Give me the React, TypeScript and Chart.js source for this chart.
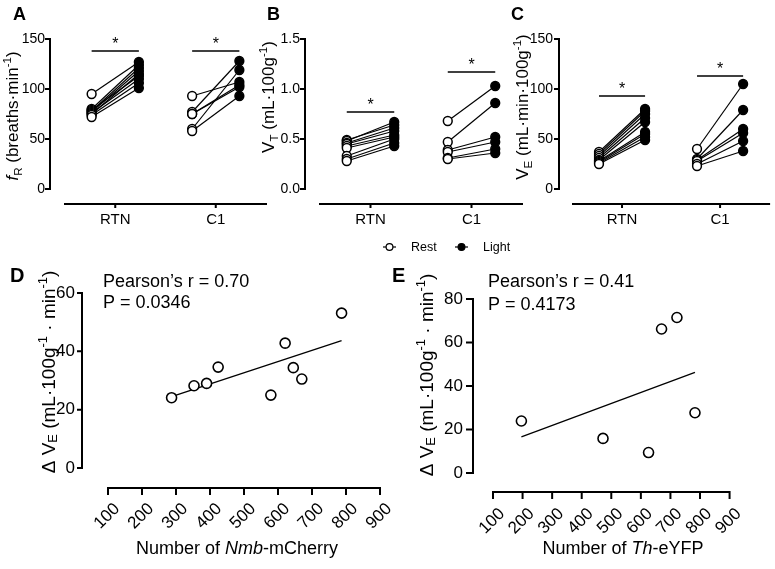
import React, { useEffect, useRef } from 'react';
import { Chart, registerables } from 'chart.js';
Chart.register(...registerables);

const FONT = "'Liberation Sans', Arial, Helvetica, sans-serif";

// ---------- data ----------
const groups = ['RTN', 'C1'];
const groupPos = [1, 2];

// A: fR (breaths/min)
const fRRtnRest = [95, 80, 79, 78, 77, 76, 75, 74, 72];
const fRRtnLight = [127, 124, 113, 121, 118, 110, 115, 106, 101];
const fRC1Rest = [93, 77, 75, 75, 60, 58];
const fRC1Light = [107, 128, 102, 104, 119, 93];
const fRBars = [138, 138];
const fRTicks = [0, 50, 100, 150];

// B: VT (mL/100g)
const vtRtnRest = [0.49, 0.48, 0.46, 0.45, 0.43, 0.41, 0.33, 0.3, 0.28];
const vtRtnLight = [0.64, 0.67, 0.61, 0.58, 0.54, 0.52, 0.5, 0.46, 0.43];
const vtC1Rest = [0.68, 0.47, 0.39, 0.37, 0.31, 0.3];
const vtC1Light = [1.03, 0.86, 0.52, 0.47, 0.4, 0.36];
const vtBars = [0.77, 1.17];
const vtTicks = [0, 0.5, 1.0, 1.5];

// C: VE (mL/min/100g)
const veRtnRest = [37, 35, 33, 31, 29, 28, 27, 26, 25];
const veRtnLight = [80, 78, 75, 71, 67, 57, 55, 52, 49];
const veC1Rest = [40, 30, 29, 28, 25, 23];
const veC1Light = [105, 79, 60, 56, 48, 38];
const veBars = [93, 113];
const veTicks = [0, 50, 100, 150];

// D: Nmb-mCherry vs delta VE
const nmbCount = [287, 353, 390, 424, 579, 621, 645, 670, 787];
const nmbDeltaVE = [24.1, 28.2, 29.0, 34.6, 25.0, 42.8, 34.4, 30.5, 53.1];
const nmbFitX = [287, 787];
const nmbFitY = [24.5, 43.7];
const dYTicks = [0, 20, 40, 60];

// E: Th-eYFP vs delta VE
const thCount = [196, 472, 626, 670, 722, 783];
const thDeltaVE = [23.9, 15.9, 9.4, 66.2, 71.5, 27.7];
const thFitX = [196, 783];
const thFitY = [16.6, 46.3];
const eYTicks = [0, 20, 40, 60, 80];

const countTicks = [100, 200, 300, 400, 500, 600, 700, 800, 900];

// ---------- rich text helpers ----------
type Seg = { t: string; it?: boolean; sub?: boolean; sup?: boolean };
type TextItem = { segs: Seg[]; x: number; y: number; size: number; bold?: boolean; rot?: boolean; align?: 'left' | 'center'; subDy?: number };

function segFont(s: Seg, size: number, bold?: boolean) {
  const fs = s.sub || s.sup ? size * 0.68 : size;
  return `${s.it ? 'italic ' : ''}${bold ? 'bold ' : ''}${fs}px ${FONT}`;
}
function drawRich(ctx: CanvasRenderingContext2D, item: TextItem) {
  ctx.save();
  ctx.translate(item.x, item.y);
  if (item.rot) ctx.rotate(-Math.PI / 2);
  let w = 0;
  for (const s of item.segs) {
    ctx.font = segFont(s, item.size, item.bold);
    w += ctx.measureText(s.t).width;
  }
  let cx = item.align === 'center' ? -w / 2 : 0;
  ctx.textAlign = 'left';
  ctx.textBaseline = 'alphabetic';
  ctx.fillStyle = '#000';
  const subDy = item.subDy ?? 0.22;
  for (const s of item.segs) {
    ctx.font = segFont(s, item.size, item.bold);
    const dy = s.sub ? item.size * subDy : s.sup ? -item.size * 0.42 : 0;
    ctx.fillText(s.t, cx, dy);
    cx += ctx.measureText(s.t).width;
  }
  ctx.restore();
}

// ---------- plugin: Prism-style offset axes, stars, texts, legend ----------
const prismPlugin = {
  id: 'prism',
  afterDraw(chart: any, _args: any, opts: any) {
    const ctx: CanvasRenderingContext2D = chart.ctx;
    const ca = chart.chartArea;
    const xs = chart.scales.x;
    const ys = chart.scales.y;
    ctx.save();
    ctx.strokeStyle = '#000';
    ctx.lineWidth = 2;
    // y axis
    const yx = ca.left - opts.yGap;
    const yt: number[] = opts.yTicks;
    const yTop = ys.getPixelForValue(yt[yt.length - 1]);
    const yBot = ys.getPixelForValue(yt[0]);
    ctx.beginPath();
    ctx.moveTo(yx, yTop - 1);
    ctx.lineTo(yx, yBot + 1);
    for (const v of yt) {
      const p = ys.getPixelForValue(v);
      ctx.moveTo(yx + 1, p);
      ctx.lineTo(yx - opts.yTickLen, p);
    }
    ctx.stroke();
    // x axis
    const xy = ca.bottom + opts.xGap;
    ctx.beginPath();
    ctx.moveTo(ca.left - 1, xy);
    ctx.lineTo(ca.right + 1, xy);
    for (const v of opts.xTicks as number[]) {
      const p = xs.getPixelForValue(v);
      ctx.moveTo(p, xy - 1);
      ctx.lineTo(p, xy + opts.xTickLen);
    }
    ctx.stroke();
    // significance stars
    if (opts.stars) {
      ctx.fillStyle = '#000';
      ctx.font = `16px ${FONT}`;
      ctx.textAlign = 'center';
      ctx.textBaseline = 'alphabetic';
      for (const s of opts.stars) {
        ctx.fillText('*', xs.getPixelForValue(s.x), ys.getPixelForValue(s.y) - 2);
      }
    }
    // texts
    for (const t of (opts.texts || []) as TextItem[]) drawRich(ctx, t);
    // legend
    if (opts.legend) {
      for (const it of opts.legend) {
        ctx.beginPath();
        ctx.strokeStyle = '#000';
        ctx.lineWidth = 1.2;
        ctx.moveTo(it.x, it.y);
        ctx.lineTo(it.x + 13, it.y);
        ctx.stroke();
        ctx.beginPath();
        ctx.arc(it.x + 6.5, it.y, 3.4, 0, Math.PI * 2);
        ctx.fillStyle = it.filled ? '#000' : '#fff';
        ctx.fill();
        ctx.stroke();
        ctx.fillStyle = '#000';
        ctx.font = `12.5px ${FONT}`;
        ctx.textAlign = 'left';
        ctx.textBaseline = 'middle';
        ctx.fillText(it.label, it.x + 28, it.y + 0.5);
      }
    }
    ctx.restore();
  },
};

// ---------- config builders ----------
const REST_OFF = -0.235;
const LIGHT_OFF = 0.235;
const W = 775;
const H = 569;

type Box = { left: number; right: number; top: number; bottom: number };

type PairedSpec = {
  rest: number[][];
  light: number[][];
  bars: number[];
  yTicks: number[];
  yDec: number;
  area: Box;
  yGap: number;
  xGap: number;
  texts: TextItem[];
  legend?: any[];
};

const Y_W = 60; // y scale box width
const X_H = 60; // x scale box height

function pairedConfig(sp: PairedSpec): any {
  const datasets: any[] = [];
  groups.forEach((_g, gi) => {
    const pos = groupPos[gi];
    sp.rest[gi].forEach((r, i) => {
      datasets.push({
        data: [
          { x: pos + REST_OFF, y: r },
          { x: pos + LIGHT_OFF, y: sp.light[gi][i] },
        ],
        showLine: true,
        borderColor: '#000',
        borderWidth: 1.2,
        pointRadius: 0,
        order: 2,
      });
    });
    datasets.push({
      data: [
        { x: pos + REST_OFF, y: sp.bars[gi] },
        { x: pos + LIGHT_OFF, y: sp.bars[gi] },
      ],
      showLine: true,
      borderColor: '#000',
      borderWidth: 1.6,
      pointRadius: 0,
      order: 2,
    });
    datasets.push({
      data: sp.rest[gi].map((r) => ({ x: pos + REST_OFF, y: r })),
      showLine: false,
      pointRadius: 4.4,
      pointBackgroundColor: '#fff',
      pointBorderColor: '#000',
      pointBorderWidth: 1.5,
      order: 0,
    });
    datasets.push({
      data: sp.light[gi].map((l) => ({ x: pos + LIGHT_OFF, y: l })),
      showLine: false,
      pointRadius: 4.4,
      pointBackgroundColor: '#000',
      pointBorderColor: '#000',
      pointBorderWidth: 1.5,
      order: 0,
    });
  });
  const yMax = sp.yTicks[sp.yTicks.length - 1];
  const a = sp.area;
  return {
    type: 'scatter',
    data: { datasets },
    options: {
      responsive: false,
      animation: false,
      devicePixelRatio: 1,
      layout: { padding: { left: a.left - Y_W, right: W - a.right, top: a.top, bottom: H - a.bottom - X_H } },
      plugins: {
        legend: { display: false },
        tooltip: { enabled: false },
        prism: {
          yGap: sp.yGap,
          xGap: sp.xGap,
          xTickLen: 4,
          yTickLen: 5,
          yTicks: sp.yTicks,
          xTicks: groupPos,
          stars: groupPos.map((p, i) => ({ x: p, y: sp.bars[i] })),
          texts: sp.texts,
          legend: sp.legend,
        },
      },
      scales: {
        x: {
          type: 'linear',
          min: 0.5,
          max: 2.5,
          afterFit: (s: any) => { s.height = X_H; },
          afterBuildTicks: (s: any) => { s.ticks = groupPos.map((v) => ({ value: v })); },
          grid: { display: false, drawTicks: false },
          border: { display: false },
          ticks: {
            padding: 22,
            color: '#000',
            font: { family: FONT, size: 15 },
            maxRotation: 0,
            autoSkip: false,
            callback: (v: number) => groups[groupPos.indexOf(v)] ?? '',
          },
        },
        y: {
          type: 'linear',
          min: 0,
          max: yMax,
          afterFit: (s: any) => { s.width = Y_W; },
          afterBuildTicks: (s: any) => { s.ticks = sp.yTicks.map((v) => ({ value: v })); },
          grid: { display: false, drawTicks: false },
          border: { display: false },
          ticks: {
            padding: 20,
            color: '#000',
            autoSkip: false,
            font: { family: FONT, size: 14 },
            callback: (v: number) => v.toFixed(sp.yDec),
          },
        },
      },
    },
  };
}

type ScatterSpec = {
  xs: number[];
  ys: number[];
  fitX: number[];
  fitY: number[];
  yTicks: number[];
  area: Box;
  yGap: number;
  xGap: number;
  yPad: number;
  yTickLen: number;
  texts: TextItem[];
};

const SY_W = 80;
const SX_H = 75;

function scatterConfig(sp: ScatterSpec): any {
  const a = sp.area;
  return {
    type: 'scatter',
    data: {
      datasets: [
        {
          data: sp.xs.map((x, i) => ({ x, y: sp.ys[i] })),
          pointRadius: 5,
          pointBackgroundColor: '#fff',
          pointBorderColor: '#000',
          pointBorderWidth: 1.6,
          showLine: false,
          order: 0,
        },
        {
          data: sp.fitX.map((x, i) => ({ x, y: sp.fitY[i] })),
          showLine: true,
          borderColor: '#000',
          borderWidth: 1.3,
          pointRadius: 0,
          order: 1,
        },
      ],
    },
    options: {
      responsive: false,
      animation: false,
      devicePixelRatio: 1,
      layout: { padding: { left: a.left - SY_W, right: W - a.right, top: a.top, bottom: H - a.bottom - SX_H } },
      plugins: {
        legend: { display: false },
        tooltip: { enabled: false },
        prism: {
          yGap: sp.yGap,
          xGap: sp.xGap,
          xTickLen: 7,
          yTickLen: sp.yTickLen,
          yTicks: sp.yTicks,
          xTicks: countTicks,
          texts: sp.texts,
        },
      },
      scales: {
        x: {
          type: 'linear',
          min: countTicks[0],
          max: countTicks[countTicks.length - 1],
          afterFit: (s: any) => { s.height = SX_H; },
          afterBuildTicks: (s: any) => { s.ticks = countTicks.map((v) => ({ value: v })); },
          grid: { display: false, drawTicks: false },
          border: { display: false },
          ticks: {
            padding: 31,
            color: '#000',
            font: { family: FONT, size: 17 },
            minRotation: 45,
            maxRotation: 45,
            autoSkip: false,
            labelOffset: 9,
          },
        },
        y: {
          type: 'linear',
          min: sp.yTicks[0],
          max: sp.yTicks[sp.yTicks.length - 1],
          afterFit: (s: any) => { s.width = SY_W; },
          afterBuildTicks: (s: any) => { s.ticks = sp.yTicks.map((v) => ({ value: v })); },
          grid: { display: false, drawTicks: false },
          border: { display: false },
          ticks: {
            padding: sp.yPad,
            color: '#000',
            autoSkip: false,
            font: { family: FONT, size: 17 },
          },
        },
      },
    },
  };
}

// ---------- text specs ----------
const deltaVETitle: Seg[] = [
  { t: 'Δ V' }, { t: 'E', sub: true }, { t: ' (mL·100g' }, { t: '-1', sup: true },
  { t: ' · min' }, { t: '-1', sup: true }, { t: ')' },
];

const panelA = () =>
  pairedConfig({
    rest: [fRRtnRest, fRC1Rest],
    light: [fRRtnLight, fRC1Light],
    bars: fRBars,
    yTicks: fRTicks,
    yDec: 0,
    area: { left: 65, right: 266, top: 39, bottom: 189 },
    yGap: 15,
    xGap: 15,
    texts: [
      { segs: [{ t: 'A' }], x: 13, y: 20, size: 18, bold: true },
      {
        segs: [{ t: 'f', it: true }, { t: 'R', sub: true }, { t: ' (breaths·min' }, { t: '-1', sup: true }, { t: ')' }],
        x: 18, y: 116, size: 17, rot: true, align: 'center',
      },
    ],
  });

const panelB = () =>
  pairedConfig({
    rest: [vtRtnRest, vtC1Rest],
    light: [vtRtnLight, vtC1Light],
    bars: vtBars,
    yTicks: vtTicks,
    yDec: 1,
    area: { left: 320, right: 522, top: 39, bottom: 189 },
    yGap: 15,
    xGap: 15,
    texts: [
      { segs: [{ t: 'B' }], x: 267, y: 20, size: 18, bold: true },
      {
        segs: [{ t: 'V' }, { t: 'T', sub: true }, { t: ' (mL·100g' }, { t: '-1', sup: true }, { t: ')' }],
        x: 274, y: 97, size: 17, rot: true, align: 'center',
      },
    ],
    legend: [
      { x: 383, y: 247, label: 'Rest', filled: false },
      { x: 455, y: 247, label: 'Light', filled: true },
    ],
  });

const panelC = () =>
  pairedConfig({
    rest: [veRtnRest, veC1Rest],
    light: [veRtnLight, veC1Light],
    bars: veBars,
    yTicks: veTicks,
    yDec: 0,
    area: { left: 573, right: 773, top: 39, bottom: 189 },
    yGap: 14,
    xGap: 15,
    texts: [
      { segs: [{ t: 'C' }], x: 511, y: 20, size: 18, bold: true },
      {
        segs: [{ t: 'V' }, { t: 'E', sub: true }, { t: ' (mL·min·100g' }, { t: '-1', sup: true }, { t: ')' }],
        x: 528, y: 107, size: 17, rot: true, align: 'center',
      },
    ],
  });

const panelD = () =>
  scatterConfig({
    xs: nmbCount,
    ys: nmbDeltaVE,
    fitX: nmbFitX,
    fitY: nmbFitY,
    yTicks: dYTicks,
    area: { left: 108, right: 380, top: 293, bottom: 468 },
    yGap: 26,
    xGap: 20,
    yPad: 33,
    yTickLen: 5,
    texts: [
      { segs: [{ t: 'D' }], x: 10, y: 282, size: 20, bold: true },
      { segs: [{ t: 'Pearson’s r = 0.70' }], x: 103, y: 287, size: 18 },
      { segs: [{ t: 'P = 0.0346' }], x: 103, y: 308, size: 18 },
      { segs: deltaVETitle, x: 55, y: 372, size: 19, rot: true, align: 'center', subDy: 0.1 },
      {
        segs: [{ t: 'Number of ' }, { t: 'Nmb', it: true }, { t: '-mCherry' }],
        x: 237, y: 554, size: 18, align: 'center',
      },
    ],
  });

const panelE = () =>
  scatterConfig({
    xs: thCount,
    ys: thDeltaVE,
    fitX: thFitX,
    fitY: thFitY,
    yTicks: eYTicks,
    area: { left: 493, right: 763, top: 299, bottom: 473 },
    yGap: 20,
    xGap: 19,
    yPad: 30,
    yTickLen: 7,
    texts: [
      { segs: [{ t: 'E' }], x: 392, y: 282, size: 20, bold: true },
      { segs: [{ t: 'Pearson’s r = 0.41' }], x: 488, y: 287, size: 18 },
      { segs: [{ t: 'P = 0.4173' }], x: 488, y: 310, size: 18 },
      { segs: deltaVETitle, x: 433, y: 375, size: 19, rot: true, align: 'center', subDy: 0.1 },
      {
        segs: [{ t: 'Number of ' }, { t: 'Th', it: true }, { t: '-eYFP' }],
        x: 623, y: 554, size: 18, align: 'center',
      },
    ],
  });

function Panel({ make }: { make: () => any }) {
  const ref = useRef<HTMLCanvasElement>(null);
  useEffect(() => {
    const cfg = make();
    cfg.plugins = [prismPlugin];
    const chart = new Chart(ref.current as HTMLCanvasElement, cfg);
    return () => chart.destroy();
  }, [make]);
  return (
    <canvas
      ref={ref}
      width={W}
      height={H}
      style={{ position: 'absolute', left: 0, top: 0, width: W, height: H }}
    />
  );
}

export default function App() {
  return (
    <div style={{ position: 'fixed', left: 0, top: 0, width: W, height: H, background: '#fff', overflow: 'hidden' }}>
      <Panel make={panelA} />
      <Panel make={panelB} />
      <Panel make={panelC} />
      <Panel make={panelD} />
      <Panel make={panelE} />
    </div>
  );
}
